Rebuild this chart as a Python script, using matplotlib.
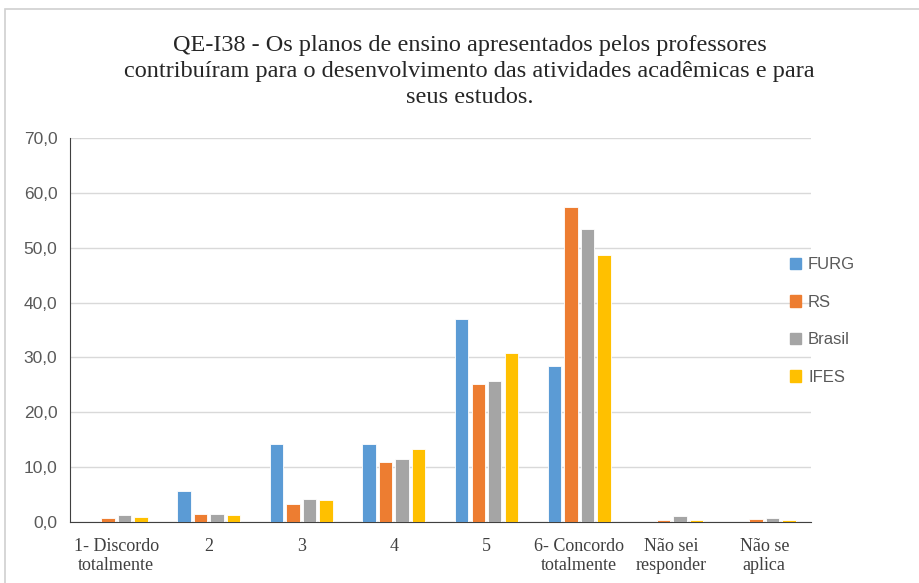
import matplotlib.pyplot as plt
import matplotlib.patches as mpatches
import numpy as np

# Categories and series values
categories = ['1- Discordo\ntotalmente', '2', '3', '4', '5',
              '6- Concordo\ntotalmente', 'Não sei\nresponder', 'Não se\naplica']
series_names = ['FURG', 'RS', 'Brasil', 'IFES']
furg = [0.0, 5.7, 14.2, 14.2, 37.0, 28.4, 0.0, 0.0]
rs = [0.7, 1.5, 3.3, 10.9, 25.2, 57.4, 0.4, 0.5]
brasil = [1.3, 1.5, 4.2, 11.5, 25.7, 53.4, 1.0, 0.7]
ifes = [0.9, 1.3, 4.0, 13.3, 30.8, 48.7, 0.4, 0.3]
colors = ['#5B9BD5', '#ED7D31', '#A5A5A5', '#FFC000']
title = ('QE-I38 - Os planos de ensino apresentados pelos professores\n'
         'contribuíram para o desenvolvimento das atividades acadêmicas e para\n'
         'seus estudos.')

fig = plt.figure(figsize=(9.19, 5.83), dpi=100)
ax = fig.add_axes([0.076, 0.105, 0.806, 0.658])

x = np.arange(len(categories))
width = 0.145
step = 0.178
for i, (vals, name) in enumerate(zip([furg, rs, brasil, ifes], series_names)):
    ax.bar(x + (i - 1.5) * step, vals, width, color=colors[i], label=name,
           edgecolor='white', linewidth=0.6, zorder=3)

ax.set_xlim(-0.5, len(categories) - 0.5)
ax.set_ylim(0, 70)
ax.set_yticks(np.arange(0, 71, 10))
ax.set_yticklabels([f'{v:.1f}'.replace('.', ',') for v in np.arange(0, 71, 10)],
                   fontsize=12.5, color='#595959', family='Liberation Sans')
ax.set_xticks(x)
ax.set_xticklabels(categories, fontsize=13, color='#404040', family='Liberation Serif',
                   linespacing=1.1)
ax.tick_params(axis='x', length=0, pad=12)
ax.tick_params(axis='y', length=0, pad=9)
ax.grid(axis='y', color='#D9D9D9', linewidth=1, zorder=0)
for side in ['top', 'right']:
    ax.spines[side].set_visible(False)
ax.spines['left'].set_color('#404040')
ax.spines['bottom'].set_color('#404040')

fig.text(0.511, 0.94, title, ha='center', va='top', fontsize=17.5,
         family='Liberation Serif', color='#262626', linespacing=1.32)

handles = [mpatches.Patch(color=c) for c in colors]
fig.legend(handles, series_names, loc='center left', bbox_to_anchor=(0.843, 0.449),
           frameon=False, handlelength=0.7, handleheight=0.7, labelspacing=1.35,
           handletextpad=0.4, prop={'family': 'Liberation Sans', 'size': 12},
           labelcolor='#595959')

# light frame around the chart area
fig.patches.append(mpatches.Rectangle((0.005, -0.01), 1.2, 0.995, transform=fig.transFigure,
                                      fill=False, edgecolor='#D0D0D0', linewidth=1.2))

fig.savefig('out.png', dpi=100)
